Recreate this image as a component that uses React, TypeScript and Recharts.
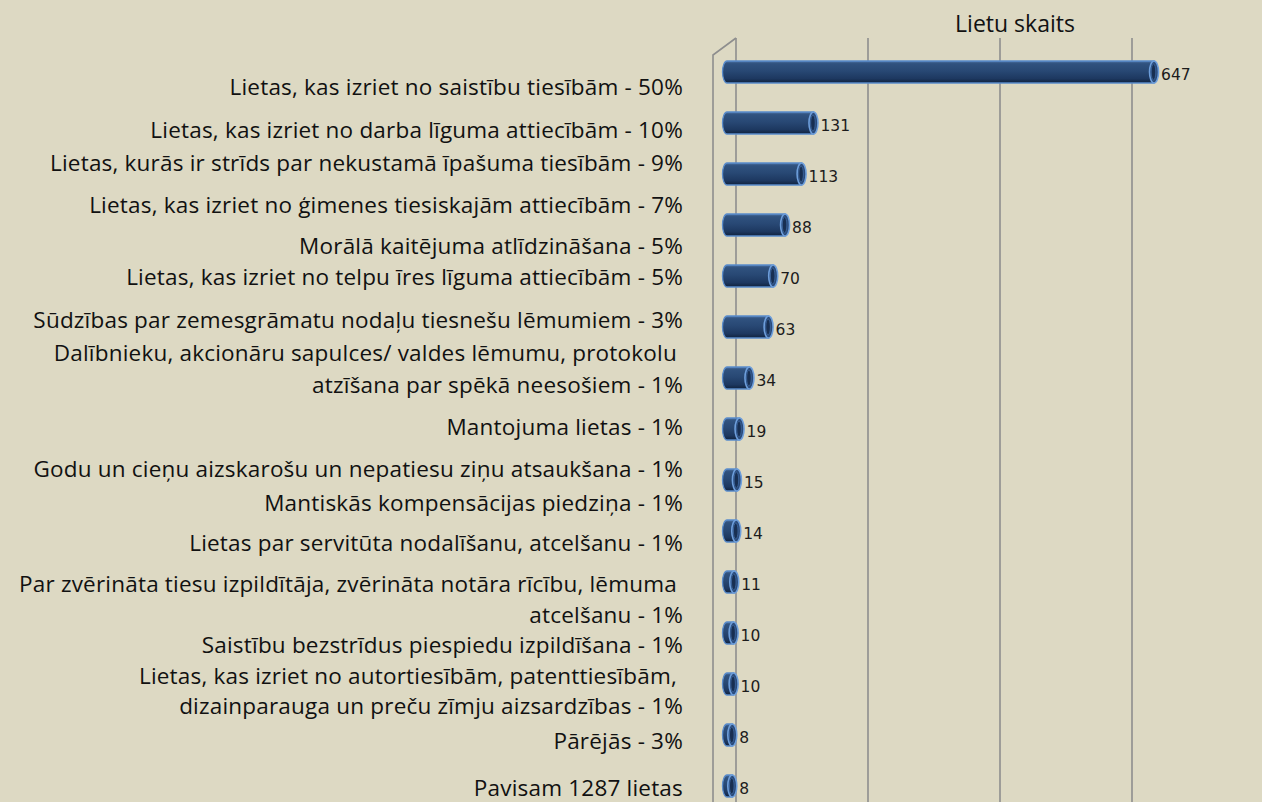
import React from 'react';
import { BarChart, Bar, XAxis, YAxis, CartesianGrid, LabelList } from 'recharts';

// ---- data ----
const categories = [
  'Saistību tiesības',
  'Darba līgums',
  'Nekustamā īpašuma tiesības',
  'Ģimenes tiesiskās attiecības',
  'Morālā kaitējuma atlīdzināšana',
  'Telpu īres līgums',
  'Zemesgrāmatu nodaļu lēmumi',
  'Sapulču lēmumu atzīšana',
  'Mantojuma lietas',
  'Godu un cieņu aizskarošas ziņas',
  'Mantiskā kompensācija',
  'Servitūti',
  'Zvērināta tiesu izpildītāja rīcība',
  'Bezstrīdus piespiedu izpildīšana',
  'Autortiesības, patenttiesības',
];
const values = [647, 131, 113, 88, 70, 63, 34, 19, 15, 14, 11, 10, 10, 8, 8];
const xTicks = [0, 200, 400, 600, 800];
const axisTitle = 'Lietu skaits';

const labelLines = [
  'Lietas, kas izriet no saistību tiesībām - 50%',
  'Lietas, kas izriet no darba līguma attiecībām - 10%',
  'Lietas, kurās ir strīds par nekustamā īpašuma tiesībām - 9%',
  'Lietas, kas izriet no ģimenes tiesiskajām attiecībām - 7%',
  'Morālā kaitējuma atlīdzināšana - 5%',
  'Lietas, kas izriet no telpu īres līguma attiecībām - 5%',
  'Sūdzības par zemesgrāmatu nodaļu tiesnešu lēmumiem - 3%',
  'Dalībnieku, akcionāru sapulces/ valdes lēmumu, protokolu\u00a0',
  'atzīšana par spēkā neesošiem - 1%',
  'Mantojuma lietas - 1%',
  'Godu un cieņu aizskarošu un nepatiesu ziņu atsaukšana - 1%',
  'Mantiskās kompensācijas piedziņa - 1%',
  'Lietas par servitūta nodalīšanu, atcelšanu - 1%',
  'Par zvērināta tiesu izpildītāja, zvērināta notāra rīcību, lēmuma\u00a0',
  'atcelšanu - 1%',
  'Saistību bezstrīdus piespiedu izpildīšana - 1%',
  'Lietas, kas izriet no autortiesībām, patenttiesībām,\u00a0',
  'dizainparauga un preču zīmju aizsardzības - 1%',
  'Pārējās - 3%',
  'Pavisam 1287 lietas',
];

// ---- layout ----
const W = 1262;
const H = 802;
const BG = '#DDD9C3';
const M = { top: 38, right: 7, left: 727, bottom: 0 };
const CHART_H = 811;
const BACK_SHIFT = 9; // 3D back-wall offset of the grid
const FRONT_SHIFT = -14;
const labelLineY = [87, 130, 163, 205, 246, 277, 320, 353, 385, 427, 469, 503, 543, 584, 615, 645, 676, 706, 741, 788];
const LABEL_RIGHT = 683;
const TEXT_FONT = "'Open Sans', 'Noto Sans', sans-serif";

const data = categories.map((name, i) => ({ name, value: values[i] }));

const CylinderBar = (props: any) => {
  const { x, y, width, height, index } = props;
  const rx = 4.5;
  const ry = height / 2;
  const cy = y + ry;
  const x1 = x + width;
  const id = `cyl${index}`;
  return (
    <g>
      <defs>
        <linearGradient id={id} x1="0" y1="0" x2="0" y2="1">
          <stop offset="0" stopColor="#4d72a3" />
          <stop offset="0.12" stopColor="#30527f" />
          <stop offset="0.45" stopColor="#284874" />
          <stop offset="0.8" stopColor="#1d3860" />
          <stop offset="1" stopColor="#10223d" />
        </linearGradient>
      </defs>
      <path
        d={`M ${x} ${y} L ${x1} ${y} L ${x1} ${y + height} L ${x} ${y + height} A ${rx} ${ry} 0 0 1 ${x} ${y} Z`}
        fill={`url(#${id})`}
        stroke="#5a8ccb"
        strokeWidth={1.3}
      />
      <ellipse cx={x1} cy={cy} rx={rx} ry={ry} fill="#2b4b7a" stroke="#6d9edb" strokeWidth={1.6} />
      <ellipse cx={x1 - 0.5} cy={cy} rx={Math.max(rx - 2.2, 0.5)} ry={Math.max(ry - 3, 1)} fill="#182f52" stroke="#3f6aa3" strokeWidth={0.8} />
    </g>
  );
};

const ValueLabel = (props: any) => {
  const { x, y, width, height, value } = props;
  return (
    <text
      x={x + width + 7}
      y={y + height / 2 + 3}
      dominantBaseline="central"
      fontFamily="DejaVu Sans, Verdana, sans-serif"
      fontSize={15.5}
      fill="#1c1c1c"
    >
      {value}
    </text>
  );
};

export default function App() {
  const frontX = M.left + FRONT_SHIFT;
  const backX = M.left + BACK_SHIFT;
  return (
    <div
      style={{
        position: 'fixed',
        left: 0,
        top: 0,
        width: W,
        height: H,
        overflow: 'hidden',
        background: BG,
      }}
    >
      <div style={{ position: 'absolute', left: 0, top: 0 }}>
        <BarChart width={W} height={CHART_H} data={data} layout="vertical" margin={M}>
          <CartesianGrid
            horizontal={false}
            vertical
            stroke="#8e8e8e"
            strokeWidth={1.6}
            verticalCoordinatesGenerator={({ offset }: any) =>
              xTicks.map((t) => offset.left + (t / xTicks[xTicks.length - 1]) * offset.width + BACK_SHIFT)
            }
          />
          <XAxis type="number" domain={[0, xTicks[xTicks.length - 1]]} ticks={xTicks} hide />
          <YAxis type="category" dataKey="name" hide padding={{ top: 8, bottom: 0 }} />
          <Bar dataKey="value" barSize={22} shape={CylinderBar} isAnimationActive={false}>
            <LabelList dataKey="value" content={ValueLabel} />
          </Bar>
        </BarChart>
      </div>
      <svg
        width={W}
        height={H}
        style={{ position: 'absolute', left: 0, top: 0, pointerEvents: 'none' }}
      >
        <path
          d={`M ${frontX} ${H + 10} L ${frontX} ${M.top + 17} L ${backX} ${M.top}`}
          fill="none"
          stroke="#8e8e8e"
          strokeWidth={1.6}
        />
        <text
          x={1015}
          y={23}
          textAnchor="middle"
          dominantBaseline="central"
          fontFamily={TEXT_FONT}
          fontSize={23}
          fill="#111"
        >
          {axisTitle}
        </text>
      </svg>
      {labelLines.map((t, i) => (
        <div
          key={i}
          style={{
            position: 'absolute',
            right: W - LABEL_RIGHT,
            top: labelLineY[i] - 14,
            height: 28,
            lineHeight: '28px',
            whiteSpace: 'pre',
            fontFamily: TEXT_FONT,
            fontSize: 22.5,
            letterSpacing: 0.2,
            color: '#111',
            textAlign: 'right',
          }}
        >
          {t}
        </div>
      ))}
    </div>
  );
}
